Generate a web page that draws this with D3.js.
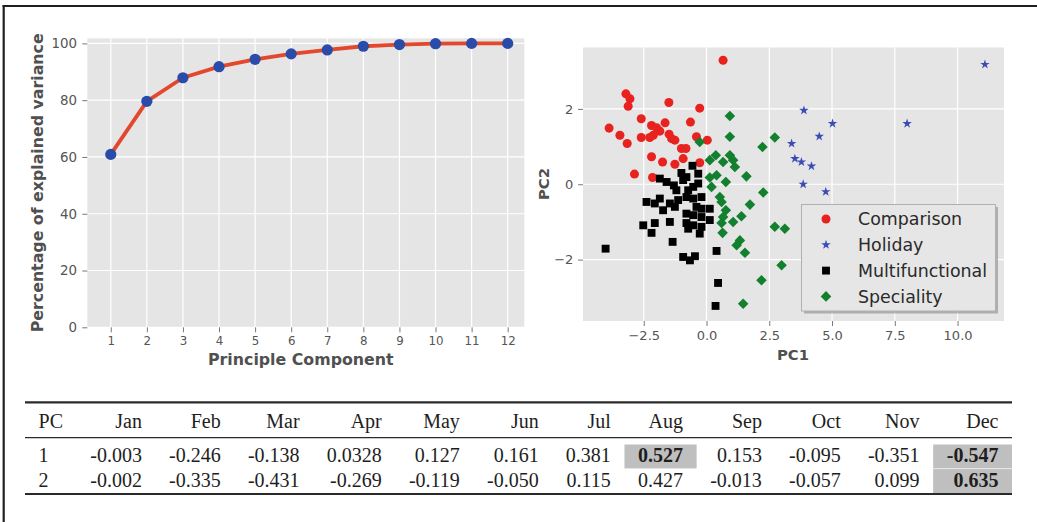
<!DOCTYPE html>
<html><head><meta charset="utf-8">
<script src="https://cdn.jsdelivr.net/npm/d3@7"></script>
<style>body{margin:0;background:#fff;} svg{display:block;}</style>
</head><body>
<svg id="chart" width="1037" height="522"></svg>
<script>
// ---------- data ----------
const components = [1,2,3,4,5,6,7,8,9,10,11,12];
const explainedVariance = [60.9, 79.6, 87.9, 91.8, 94.4, 96.3, 97.7, 99.0, 99.6, 99.9, 100, 100];
const varianceTicks = [0,20,40,60,80,100];

const comparison = [[0.66,3.29],[-3.21,2.40],[-3.05,2.27],[-3.12,2.07],[-1.50,2.17],[-0.27,2.02],[-2.60,1.74],[-1.65,1.63],[-0.64,1.65],[-3.88,1.49],[-2.19,1.56],[-1.99,1.50],[-1.86,1.41],[-3.45,1.30],[-2.60,1.24],[-2.26,1.24],[-2.12,1.30],[-1.49,1.33],[-1.39,1.21],[-1.26,1.17],[-0.40,1.26],[0.03,1.17],[-3.16,1.08],[-1.00,0.95],[-0.82,0.95],[-2.19,0.73],[-1.75,0.59],[-0.93,0.68],[-1.26,0.53],[-0.27,0.57],[-2.87,0.27],[-2.15,0.18]];
const holiday = [[11.09,3.18],[3.88,1.96],[5.02,1.61],[7.99,1.61],[4.49,1.27],[3.39,1.08],[3.52,0.68],[3.78,0.59],[4.18,0.48],[3.85,0.00],[4.75,-0.20]];
const multifunctional = [[-0.56,0.49],[-1.00,0.30],[-1.86,0.15],[-1.59,0.06],[-1.30,-0.03],[-0.93,0.11],[-0.80,0.19],[-0.33,0.28],[-0.33,0.02],[-1.20,-0.16],[-0.73,-0.16],[-0.53,-0.07],[-2.39,-0.47],[-2.06,-0.51],[-1.86,-0.38],[-1.46,-0.51],[-1.13,-0.42],[-0.80,-0.34],[-0.53,-0.38],[-0.20,-0.34],[-1.73,-0.69],[-1.26,-0.60],[-0.40,-0.60],[-0.20,-0.65],[0.13,-0.65],[-0.80,-0.78],[-0.53,-0.82],[-0.20,-0.87],[0.13,-0.95],[-2.52,-1.09],[-2.19,-1.29],[-2.06,-1.03],[-1.46,-1.00],[-0.80,-1.03],[-0.53,-1.09],[-0.20,-1.13],[-0.73,-1.18],[-0.27,-1.31],[-1.35,-1.53],[-0.93,-1.93],[-0.66,-2.02],[-0.46,-1.91],[-4.02,-1.71],[0.40,-1.77],[0.46,-2.62],[0.36,-3.23]];
const speciality = [[0.93,1.81],[0.93,1.26],[2.72,1.24],[-0.27,1.12],[2.23,0.99],[0.37,0.77],[0.13,0.64],[0.93,0.77],[1.06,0.64],[0.66,0.59],[1.13,0.46],[0.40,0.24],[0.13,0.18],[0.20,-0.07],[0.77,0.06],[1.59,0.21],[2.26,-0.22],[0.53,-0.34],[0.60,-0.47],[1.73,-0.54],[0.77,-0.69],[0.66,-0.87],[0.60,-1.03],[1.06,-1.00],[1.39,-0.85],[0.64,-1.29],[2.72,-1.13],[3.12,-1.18],[1.33,-1.49],[1.20,-1.62],[1.53,-1.82],[2.99,-2.15],[2.19,-2.55],[1.46,-3.17]];
const groupNames = ["Comparison","Holiday","Multifunctional","Speciality"];
const pc1Ticks = [-2.5,0,2.5,5,7.5,10];
const pc1TickLabels = ["\u22122.5","0.0","2.5","5.0","7.5","10.0"];
const pc2Ticks = [-2,0,2];
const pc2TickLabels = ["\u22122","0","2"];

const months = ["Jan","Feb","Mar","Apr","May","Jun","Jul","Aug","Sep","Oct","Nov","Dec"];
const pcLabels = ["1","2"];
const pc1Loadings = ["-0.003","-0.246","-0.138","0.0328","0.127","0.161","0.381","0.527","0.153","-0.095","-0.351","-0.547"];
const pc2Loadings = ["-0.002","-0.335","-0.431","-0.269","-0.119","-0.050","0.115","0.427","-0.013","-0.057","0.099","0.635"];
const highlighted = [[0,"Aug"],[0,"Dec"],[1,"Dec"]];

// ---------- setup ----------
const svg = d3.select("#chart");
const sans = "'DejaVu Sans', sans-serif";
const tickColor = "#555";
const bg = "#E5E5E5";

// outer frame (top + left)
svg.append("line").attr("x1",2.6).attr("x2",1037).attr("y1",6).attr("y2",6).attr("stroke","#231f20").attr("stroke-width",2.2);
svg.append("line").attr("x1",3.7).attr("x2",3.7).attr("y1",5).attr("y2",522).attr("stroke","#231f20").attr("stroke-width",2.2);

// ---------- left chart ----------
const L = {x0:87.3, x1:524.3, y0:38.3, y1:327.3};
const xL = d3.scaleLinear().domain([0.35,12.46]).range([L.x0,L.x1]);
const yL = d3.scaleLinear().domain([0,101.8]).range([L.y1,L.y0]);
const gL = svg.append("g");
gL.append("rect").attr("x",L.x0).attr("y",L.y0).attr("width",L.x1-L.x0).attr("height",L.y1-L.y0).attr("fill",bg);
gL.selectAll(".vg").data(components).join("line").attr("x1",d=>xL(d)).attr("x2",d=>xL(d)).attr("y1",L.y0).attr("y2",L.y1).attr("stroke","#fff").attr("stroke-width",1.2);
gL.selectAll(".hg").data(varianceTicks).join("line").attr("x1",L.x0).attr("x2",L.x1).attr("y1",d=>yL(d)).attr("y2",d=>yL(d)).attr("stroke","#fff").attr("stroke-width",1.2);

const axL = gL.append("g").attr("transform",`translate(${L.x0},0)`)
  .call(d3.axisLeft(yL).tickValues(varianceTicks).tickSize(5).tickPadding(5.2));
const axB = gL.append("g").attr("transform",`translate(0,${L.y1})`)
  .call(d3.axisBottom(xL).tickValues(components).tickSize(5).tickPadding(4.5));
[axL,axB].forEach(a=>{ a.select(".domain").remove(); a.selectAll("line").attr("stroke","#777"); a.selectAll("text").attr("fill",tickColor).attr("font-family",sans); });
axL.selectAll("text").attr("font-size",13.4);
axB.selectAll("text").attr("font-size",11.8);

const line = d3.line().x((d,i)=>xL(components[i])).y(d=>yL(d));
gL.append("path").datum(explainedVariance).attr("d",line).attr("fill","none").attr("stroke","#e4482c").attr("stroke-width",3.8).attr("stroke-linejoin","round");
gL.selectAll(".pt").data(explainedVariance).join("circle").attr("cx",(d,i)=>xL(components[i])).attr("cy",d=>yL(d)).attr("r",5.6).attr("fill","#2b4ba8");

gL.append("text").attr("x",(L.x0+L.x1)/2 - 5).attr("y",365).attr("text-anchor","middle").attr("font-family",sans).attr("font-weight","bold").attr("font-size",15.8).attr("fill","#505050").text("Principle Component");
gL.append("text").attr("transform",`translate(42.5,${(L.y0+L.y1)/2}) rotate(-90)`).attr("text-anchor","middle").attr("font-family",sans).attr("font-weight","bold").attr("font-size",15.8).attr("fill","#505050").text("Percentage of explained variance");

// ---------- right chart ----------
const R = {x0:583, x1:1004, y0:47.5, y1:321};
const xR = d3.scaleLinear().domain([-4.92,11.85]).range([R.x0,R.x1]);
const yR = d3.scaleLinear().domain([-3.63,3.63]).range([R.y1,R.y0]);
const gR = svg.append("g");
gR.append("rect").attr("x",R.x0).attr("y",R.y0).attr("width",R.x1-R.x0).attr("height",R.y1-R.y0).attr("fill",bg);
gR.selectAll(".vg").data(pc1Ticks).join("line").attr("x1",d=>xR(d)).attr("x2",d=>xR(d)).attr("y1",R.y0).attr("y2",R.y1).attr("stroke","#fff").attr("stroke-width",1.2);
gR.selectAll(".hg").data(pc2Ticks).join("line").attr("x1",R.x0).attr("x2",R.x1).attr("y1",d=>yR(d)).attr("y2",d=>yR(d)).attr("stroke","#fff").attr("stroke-width",1.2);

const axRL = gR.append("g").attr("transform",`translate(${R.x0},0)`)
  .call(d3.axisLeft(yR).tickValues(pc2Ticks).tickFormat((d,i)=>pc2TickLabels[i]).tickSize(5).tickPadding(4.7));
const axRB = gR.append("g").attr("transform",`translate(0,${R.y1})`)
  .call(d3.axisBottom(xR).tickValues(pc1Ticks).tickFormat((d,i)=>pc1TickLabels[i]).tickSize(5).tickPadding(5.2));
[axRL,axRB].forEach(a=>{ a.select(".domain").remove(); a.selectAll("line").attr("stroke","#777"); a.selectAll("text").attr("fill",tickColor).attr("font-family",sans).attr("font-size",13); });

gR.append("text").attr("x",793).attr("y",360).attr("text-anchor","middle").attr("font-family",sans).attr("font-weight","bold").attr("font-size",14.8).attr("fill","#505050").text("PC1");
gR.append("text").attr("transform",`translate(548.5,184) rotate(-90)`).attr("text-anchor","middle").attr("font-family",sans).attr("font-weight","bold").attr("font-size",14.8).attr("fill","#505050").text("PC2");

const groupStyle = {
  Comparison:{data:comparison, type:d3.symbolCircle, size:64, color:"#e8221e", rot:0},
  Holiday:{data:holiday, type:d3.symbolStar, size:28, color:"#3b4cb5", rot:0},
  Multifunctional:{data:multifunctional, type:d3.symbolSquare, size:62, color:"#000", rot:0},
  Speciality:{data:speciality, type:d3.symbolSquare, size:56, color:"#12802e", rot:45}
};
groupNames.forEach(name=>{
  const st = groupStyle[name];
  const path = d3.symbol().type(st.type).size(st.size)();
  gR.append("g").selectAll("path").data(st.data).join("path")
    .attr("d",path).attr("fill",st.color)
    .attr("transform",d=>`translate(${xR(d[0])},${yR(d[1])}) rotate(${st.rot})`);
});

// legend
const lg = gR.append("g");
const LB = {x:801.5, y:204.5, w:194, h:106.5};
lg.append("rect").attr("x",LB.x+2.5).attr("y",LB.y+2.5).attr("width",LB.w).attr("height",LB.h).attr("fill","#888").attr("opacity",0.6);
lg.append("rect").attr("x",LB.x).attr("y",LB.y).attr("width",LB.w).attr("height",LB.h).attr("fill","#e6e6e6").attr("stroke","#b0b0b0").attr("stroke-width",1);
groupNames.forEach((name,i)=>{
  const st = groupStyle[name];
  const cy = 219 + i*25.8;
  lg.append("path").attr("d",d3.symbol().type(st.type).size(st.size)()).attr("fill",st.color)
    .attr("transform",`translate(826,${cy}) rotate(${st.rot})`);
  lg.append("text").attr("x",858).attr("y",cy+6.2).attr("font-family",sans).attr("font-size",17.4).attr("fill","#2a2a2a").text(name);
});

// ---------- table ----------
const serif = "'Liberation Serif','Times New Roman',serif";
const fs = 20;
const header = ["PC", ...months];
const rows = [header, [pcLabels[0], ...pc1Loadings], [pcLabels[1], ...pc2Loadings]];
const isBold = (ri,c) => ri>0 && c>0 && highlighted.some(h=>h[0]===ri-1 && h[1]===months[c-1]);
const meas = svg.append("text").attr("font-family",serif).attr("font-size",fs);
const wOf = (t,b) => { meas.attr("font-weight",b?"bold":"normal").text(t); return meas.node().getComputedTextLength(); };
const ncol = header.length;
const colW = d3.range(ncol).map(c=>d3.max(rows,(r,ri)=>wOf(r[c],isBold(ri,c))));
meas.remove();
const TL = 25, TR = 1012;
const pad = (TR-TL-d3.sum(colW))/(2*ncol);
const colStart = [], colEnd = [];
let xc = TL;
colW.forEach((w,c)=>{ colStart[c]=xc; xc += w+2*pad; colEnd[c]=xc; });
const baselines = [427.5, 461.5, 486.8];
const cellBand = [[444.5,468.4],[469.1,493]];
const gT = svg.append("g");
highlighted.forEach(h=>{
  const c = months.indexOf(h[1])+1;
  gT.append("rect").attr("x",colStart[c]).attr("width",colEnd[c]-colStart[c])
    .attr("y",cellBand[h[0]][0]).attr("height",cellBand[h[0]][1]-cellBand[h[0]][0]).attr("fill","#bfbfbf");
});
rows.forEach((r,ri)=>{
  r.forEach((t,c)=>{
    gT.append("text").attr("x", c===0 ? colStart[c]+pad : colEnd[c]-pad).attr("y",baselines[ri])
      .attr("text-anchor", c===0 ? "start" : "end")
      .attr("font-family",serif).attr("font-size",fs).attr("font-weight",isBold(ri,c)?"bold":"normal")
      .attr("fill","#1e1e1e").text(t);
  });
});
[[402.3,2.2],[437.7,1.3],[494,2.2]].forEach(([y,w])=>{
  gT.append("line").attr("x1",TL).attr("x2",TR).attr("y1",y).attr("y2",y).attr("stroke","#2a2a2a").attr("stroke-width",w);
});
</script>
</body></html>
